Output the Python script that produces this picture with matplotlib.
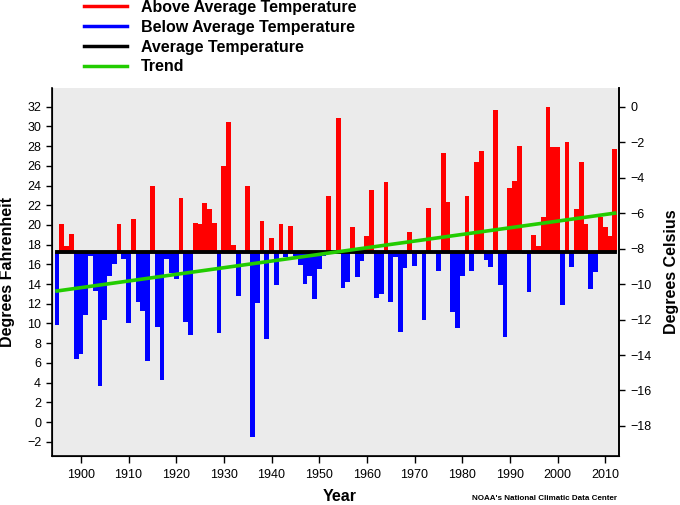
import matplotlib
matplotlib.use("Agg")
import matplotlib.pyplot as plt
import numpy as np

plt.rcParams['font.family'] = ['Liberation Sans', 'DejaVu Sans']

# Annual temperature (deg F), 1895-2012
years = np.arange(1895, 2013)
temps = [
    9.8, 20.1, 17.9, 19.1, 6.4,                                      # 1895-1899
    6.9, 10.9, 16.8, 13.3, 3.7, 10.4, 14.8, 16.0, 20.1, 16.5,        # 1900s
    10.0, 20.6, 12.2, 11.3, 6.2, 24.0, 9.6, 4.3, 16.5, 15.1,         # 1910s
    14.5, 22.7, 10.2, 8.8, 20.2, 20.1, 22.2, 21.6, 20.2, 9.0,        # 1920s
    26.0, 30.5, 18.0, 12.8, 17.3, 24.0, -1.5, 12.1, 20.4, 8.4,       # 1930s
    18.7, 13.9, 20.1, 16.7, 19.9, 16.9, 15.9, 14.0, 14.8, 12.5,      # 1940s
    15.5, 16.8, 22.9, 17.3, 30.9, 13.6, 14.2, 19.8, 14.7, 16.3,      # 1950s
    18.9, 23.5, 12.6, 13.0, 24.4, 12.2, 16.7, 9.1, 15.6, 19.3,       # 1960s
    15.8, 17.1, 10.4, 21.7, 17.3, 15.3, 27.3, 22.3, 11.2, 9.5,       # 1970s
    14.8, 22.9, 15.3, 26.4, 27.5, 16.4, 15.7, 31.7, 13.9, 8.6,       # 1980s
    23.8, 24.5, 28.0, 17.1, 13.2, 19.0, 17.9, 20.8, 32.0, 27.9,      # 1990s
    27.9, 11.9, 28.4, 15.7, 21.6, 26.4, 20.1, 13.5, 15.2, 20.8,      # 2000s
    19.8, 18.9, 27.7,                                                # 2010-2012
]
average = 17.22
trend_years = [1895, 2012]
trend_vals = [13.3, 21.2]

temps = np.array(temps)
above = temps >= average

fig = plt.figure(figsize=(6.8, 5.05), dpi=100)
ax = fig.add_axes([0.0769, 0.098, 0.8338, 0.7271])
ax.set_facecolor('#ebebeb')

ax.bar(years[above], temps[above] - average, bottom=average, width=1.0,
       color='#ff0000', linewidth=0)
ax.bar(years[~above], temps[~above] - average, bottom=average, width=1.0,
       color='#0000ff', linewidth=0)
ax.plot([years[0], years[-1]], [average, average], color='black', linewidth=2.8)
ax.plot(trend_years, trend_vals, color='#22cc00', linewidth=2.6)

ax.set_xlim(1894.0, 2012.96)
ax.set_ylim(-3.4, 33.87)
ax.set_xticks(np.arange(1900, 2011, 10))
ax.set_yticks(np.arange(-2, 33, 2))
ax.tick_params(axis='x', length=5, width=1, pad=5, labelsize=9)
ax.tick_params(axis='y', length=4, width=1, pad=4, labelsize=9)
ax.spines['top'].set_visible(False)
for s in ['left', 'right', 'bottom']:
    ax.spines[s].set_linewidth(1.2)

ax2 = ax.twinx()
lo, hi = ax.get_ylim()
ax2.set_ylim((lo - 32) * 5 / 9, (hi - 32) * 5 / 9)
ax2.set_yticks(np.arange(-18, 1, 2))
ax2.tick_params(axis='y', length=4, width=1, pad=4, labelsize=9)
ax2.spines['top'].set_visible(False)
ax2.spines['right'].set_linewidth(1.2)

ax.set_ylabel('Degrees Fahrenheit', fontsize=11.5, fontweight='bold')
ax.yaxis.set_label_coords(-0.066, 0.5)
ax2.set_ylabel('Degrees Celsius', fontsize=11.5, fontweight='bold', labelpad=9)
ax.set_xlabel('Year', fontsize=11.5, fontweight='bold')
ax.xaxis.set_label_coords(0.506, -0.092)
fig.text(0.694, 0.009, "NOAA's National Climatic Data Center", fontsize=5.8,
         fontweight='bold')

handles = [plt.Line2D([], [], color=c, linewidth=2.5)
           for c in ['#ff0000', '#0000ff', 'black', '#22cc00']]
labels = ['Above Average Temperature', 'Below Average Temperature',
          'Average Temperature', 'Trend']
leg = fig.legend(handles, labels, loc='upper left', bbox_to_anchor=(84 / 680, 1.0),
                 frameon=False, borderpad=0, borderaxespad=0, handlelength=2.7,
                 handletextpad=0.85, labelspacing=0.3,
                 prop={'size': 11.5, 'weight': 'bold'})

fig.savefig('out.png', dpi=100)
